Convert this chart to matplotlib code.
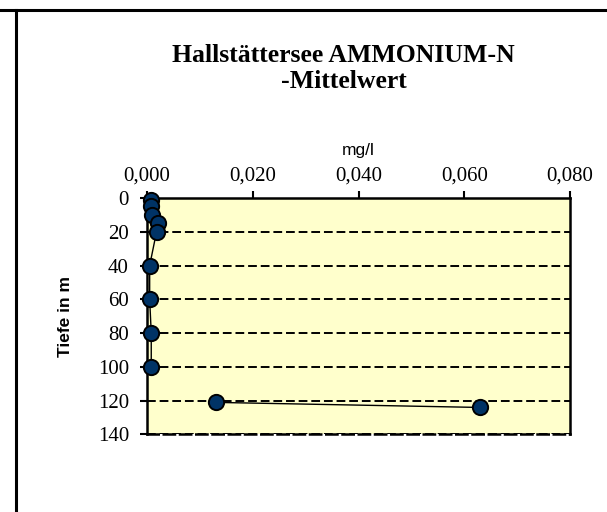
import numpy as np
import matplotlib
matplotlib.use("Agg")
from matplotlib import pyplot as plt
from matplotlib.lines import Line2D
from matplotlib.ticker import FuncFormatter

# Ammonium-N mean values (mg/l) by depth (m)
depth = [1, 5, 10, 15, 20, 40, 60, 80, 100, 121, 124]
nh4_n = [0.0007, 0.0008, 0.0010, 0.0021, 0.0018, 0.0005, 0.0005, 0.0008, 0.0008, 0.013, 0.063]
# the line is broken between 100 m and 121 m (missing value in between)
segments = [(0, 9), (9, 11)]

x_ticks = [0.0, 0.02, 0.04, 0.06, 0.08]
y_ticks = [0, 20, 40, 60, 80, 100, 120, 140]

fig = plt.figure(figsize=(6.07, 5.12), dpi=100)
ax = fig.add_axes([0.2422, 0.1514, 0.6969, 0.4619])
ax.set_facecolor('#FFFFCC')

for a, b in segments:
    ax.plot(nh4_n[a:b], depth[a:b], color='black', lw=1, marker='o', markersize=11,
            markerfacecolor='#003366', markeredgecolor='black', markeredgewidth=1.4,
            zorder=5, clip_on=False)

ax.set_xlim(0, 0.08)
ax.set_ylim(140, 0)
ax.set_xticks(x_ticks)
ax.set_yticks(y_ticks)
ax.xaxis.set_major_formatter(FuncFormatter(lambda v, p: f"{v:.3f}".replace('.', ',')))

ax.xaxis.tick_top()
ax.xaxis.set_label_position('top')
ax.tick_params(axis='both', direction='out', length=5, width=1.5,
               labelsize=15, labelfontfamily='Liberation Serif')
ax.tick_params(axis='x', pad=4)
ax.tick_params(axis='y', pad=8)

ax.yaxis.grid(True, color='black', linestyle=(0, (4.5, 2)), lw=1.4)
ax.set_axisbelow(True)
for s in ax.spines.values():
    s.set_linewidth(1.8)
ax.spines['bottom'].set_linestyle((0, (4.5, 2)))

ax.set_xlabel('mg/l', family='Liberation Sans', fontsize=12.5, labelpad=8)
ax.set_ylabel('Tiefe in m', family='Liberation Sans', fontsize=12.5,
              fontweight='bold', labelpad=18)

fig.text(0.566, 0.866, 'Hallstättersee AMMONIUM-N\n-Mittelwert', ha='center', va='center',
         family='Liberation Serif', fontweight='bold', fontsize=18.5, linespacing=1.2)

# frame lines of the chart object
fig.add_artist(Line2D([0, 0.997], [0.981, 0.981], color='black', lw=2.2))
fig.add_artist(Line2D([0.027, 0.027], [0, 0.981], color='black', lw=2.2))

fig.savefig('out.png', dpi=100)
